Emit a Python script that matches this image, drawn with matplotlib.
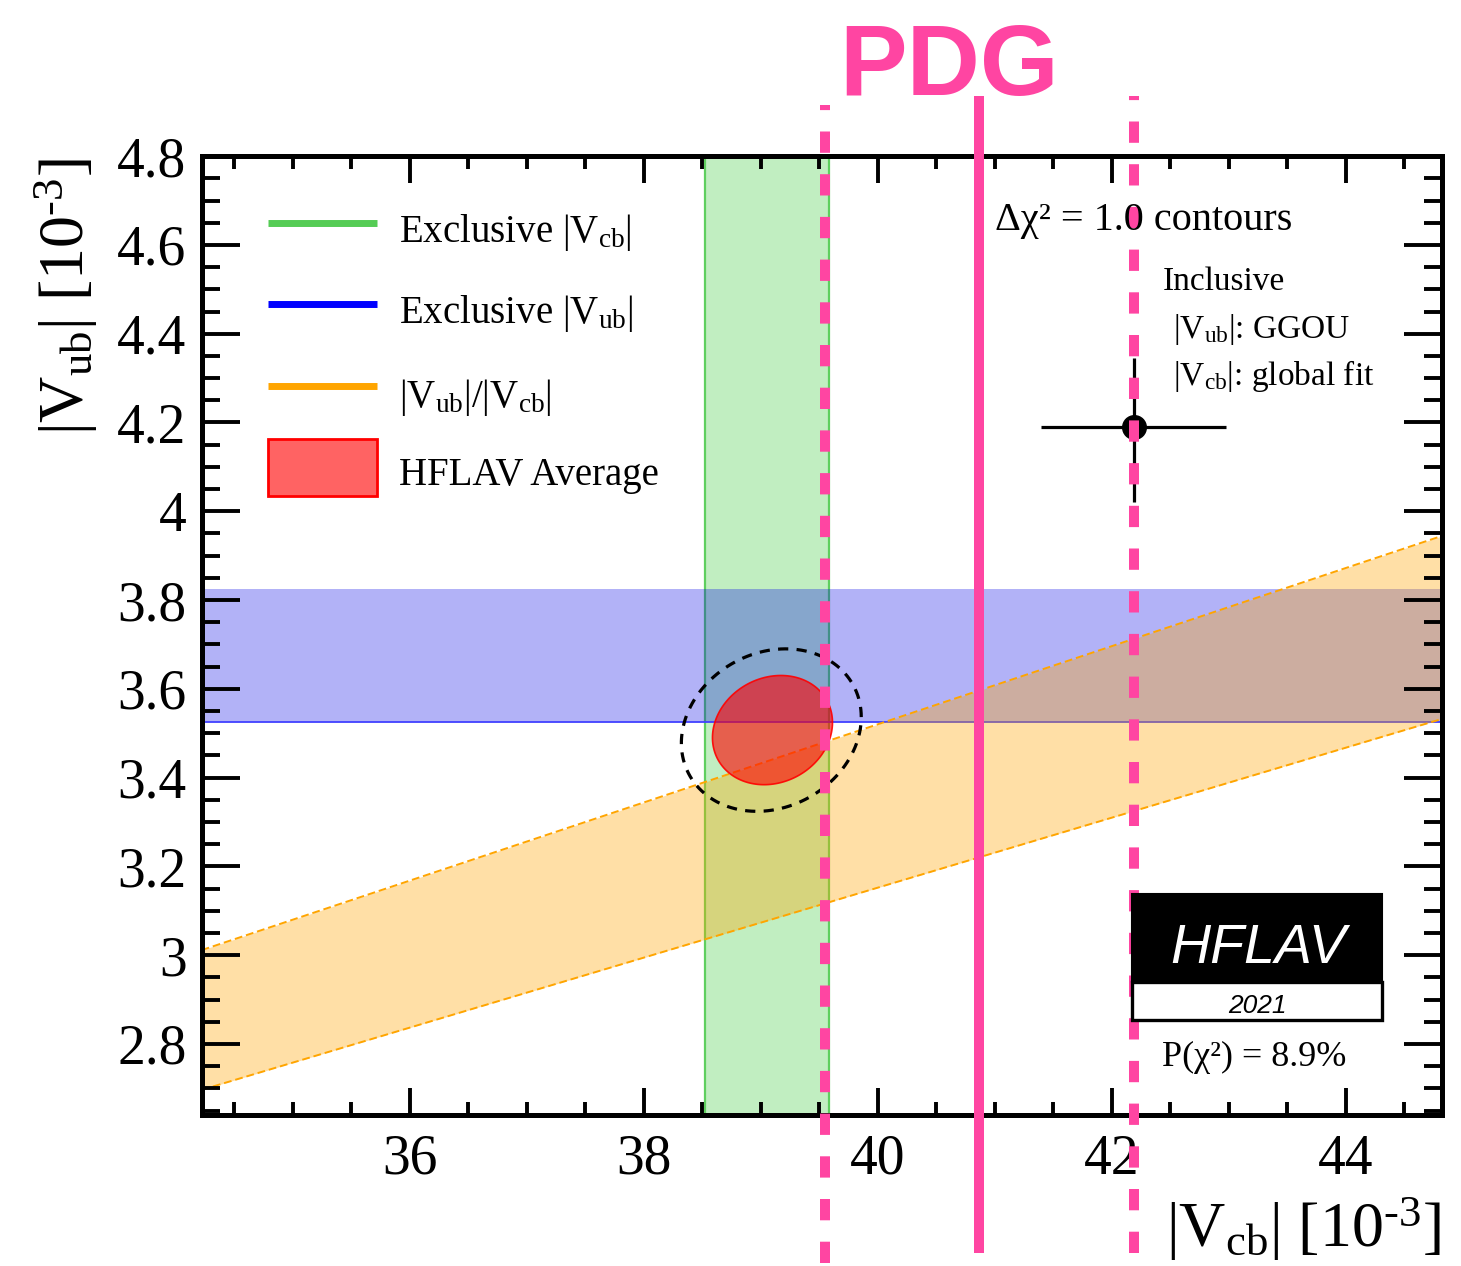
import matplotlib
matplotlib.use('Agg')
import numpy as np
import matplotlib.pyplot as plt
from matplotlib.transforms import blended_transform_factory
from matplotlib.ticker import MultipleLocator, FuncFormatter
from matplotlib.patches import Rectangle

# ---------------- data (units of 1e-3) ----------------
excl_vcb_band = [38.52, 39.58]          # exclusive |Vcb| band
excl_vub_band = [3.525, 3.825]          # exclusive |Vub| band
ratio_band = [0.0788, 0.0880]           # |Vub|/|Vcb| band
avg_center = [39.10, 3.507]             # HFLAV average (filled ellipse)
avg_sigma = [0.513, 0.123]
avg_rho = 0.14
contour_center = [39.09, 3.507]         # dashed contour
contour_sigma = [0.769, 0.183]
contour_rho = 0.16
incl_vcb = 42.19
incl_vcb_err = 0.79
incl_vub = 4.19
incl_vub_err_lo = 0.17
incl_vub_err_hi = 0.155
pdg_vcb = 40.87
pdg_vcb_err = 1.32
xlim = [34.22, 44.82]
ylim = [2.641, 4.801]

# ---------------- style ----------------
plt.rcParams['font.family'] = ['Liberation Serif', 'DejaVu Serif']
plt.rcParams['mathtext.fontset'] = 'custom'
plt.rcParams['mathtext.rm'] = 'Liberation Serif'
plt.rcParams['mathtext.it'] = 'Liberation Serif:italic'
plt.rcParams['mathtext.bf'] = 'Liberation Serif:bold'

W, H = 1461, 1266
fig = plt.figure(figsize=(W / 100, H / 100), dpi=100)
ax = fig.add_axes([201.7 / W, 1 - 1114.5 / H, (1441.5 - 201.7) / W, (1114.5 - 155.7) / H])


def fx(px):
    return px / W


def fy(py):
    return 1 - py / H


PINK = '#ff45a2'
HY = '\u2010'  # hyphen for the exponent

# bands
ax.axvspan(excl_vcb_band[0], excl_vcb_band[1], color=(50 / 255, 200 / 255, 50 / 255),
           alpha=0.3, lw=0, zorder=1)
for v in excl_vcb_band:
    ax.axvline(v, color='#5fcf5f', lw=1.6, zorder=1.5)
ax.axhspan(excl_vub_band[0], excl_vub_band[1], color=(0, 0, 230 / 255), alpha=0.3, lw=0, zorder=2)
ax.axhline(excl_vub_band[0], color='#4040ff', lw=1.3, zorder=2.5)

xs = np.array(xlim)
ax.fill_between(xs, ratio_band[0] * xs, ratio_band[1] * xs, color=(1, 165 / 255, 0),
                alpha=0.35, lw=0, zorder=3)
for r in ratio_band:
    ax.plot(xs, r * xs, color='#ffa500', lw=1.4, ls=(0, (4, 2)), zorder=3.5)

# ellipses
t = np.linspace(0, 2 * np.pi, 400)


def ell(c, s, rho):
    x = c[0] + s[0] * np.cos(t)
    y = c[1] + s[1] * (rho * np.cos(t) + np.sqrt(1 - rho ** 2) * np.sin(t))
    return x, y


ex, ey = ell(avg_center, avg_sigma, avg_rho)
ax.fill(ex, ey, facecolor=(1, 0, 0, 0.6), edgecolor=(1, 0, 0, 0.9), lw=1.2, zorder=4)
cx, cy = ell(contour_center, contour_sigma, contour_rho)
ax.plot(cx, cy, color='k', lw=2.3, ls=(0, (3.2, 2.6)), zorder=5)

# inclusive point
ax.errorbar([incl_vcb], [incl_vub], xerr=[[incl_vcb_err], [incl_vcb_err]],
            yerr=[[incl_vub_err_lo], [incl_vub_err_hi]], fmt='o', color='k', ms=17,
            elinewidth=2.3, capsize=0, zorder=6)

# PDG lines (extend beyond the axes)
trans = blended_transform_factory(ax.transData, fig.transFigure)
ax.plot([pdg_vcb, pdg_vcb], [fy(1253), fy(96)], transform=trans, color=PINK, lw=7.2,
        solid_capstyle='butt', clip_on=False, zorder=20)
ax.plot([pdg_vcb - pdg_vcb_err] * 2, [fy(1263), fy(105)], transform=trans, color=PINK, lw=7.2,
        ls=(0, (2.13, 2.14)), dash_capstyle='butt', clip_on=False, zorder=20)
ax.plot([pdg_vcb + pdg_vcb_err] * 2, [fy(1253), fy(96)], transform=trans, color=PINK, lw=7.2,
        ls=(0, (2.13, 2.14)), dash_capstyle='butt', clip_on=False, zorder=20)
fig.text(fx(949), fy(95), 'PDG', family='Liberation Sans', weight='bold', fontsize=73,
         color=PINK, ha='center', va='baseline')

# axes formatting
ax.set_xlim(xlim)
ax.set_ylim(ylim)
ax.xaxis.set_major_locator(MultipleLocator(2))
ax.xaxis.set_minor_locator(MultipleLocator(0.5))
ax.yaxis.set_major_locator(MultipleLocator(0.2))
ax.yaxis.set_minor_locator(MultipleLocator(0.05))
fmt = FuncFormatter(lambda v, p: f'{v:g}')
ax.xaxis.set_major_formatter(fmt)
ax.yaxis.set_major_formatter(fmt)
ax.tick_params(which='both', direction='in', top=True, right=True, width=2.8, colors='k')
ax.tick_params(axis='x', which='major', length=19.4, pad=14, labelsize=40)
ax.tick_params(axis='x', which='minor', length=9.4)
ax.tick_params(axis='y', which='major', length=27.4, pad=11, labelsize=40)
ax.tick_params(axis='y', which='minor', length=13)
ax.xaxis.set_zorder(12)
ax.yaxis.set_zorder(12)
for s in ax.spines.values():
    s.set_linewidth(3.6)
    s.set_zorder(12)

# axis labels
fig.text(fx(1441), fy(1247), r'|V$_{\rm cb}$| [10$^{' + HY + r'3}$]', fontsize=46,
         ha='right', va='baseline')
fig.text(fx(84), fy(158), r'|V$_{\rm ub}$| [10$^{' + HY + r'3}$]', fontsize=46, rotation=90,
         rotation_mode='anchor', ha='right', va='baseline')

# legend
leg_items = [('#55cc55', 222.7, r'Exclusive |V$_{\rm cb}$|', 241.7),
             ('#0000ff', 304.0, r'Exclusive |V$_{\rm ub}$|', 323.0),
             ('#ffa500', 386.0, r'|V$_{\rm ub}$|/|V$_{\rm cb}$|', 406.7)]
for col, ly, lab, by in leg_items:
    ax.plot([fx(268), fx(377)], [fy(ly), fy(ly)], transform=fig.transFigure, color=col,
            lw=5, solid_capstyle='butt', clip_on=False, zorder=7)
    fig.text(fx(399), fy(by), lab, fontsize=28, va='baseline')
fig.add_artist(Rectangle((fx(268), fy(496)), (377 - 268) / W, (496 - 439) / H,
                         transform=fig.transFigure, facecolor=(1, 0.39, 0.39),
                         edgecolor='red', lw=2))
fig.text(fx(399), fy(485), 'HFLAV Average', fontsize=28, va='baseline')

# annotations
fig.text(fx(995), fy(230), 'Δχ² = 1.0 contours', fontsize=29, va='baseline')
fig.text(fx(1163), fy(290), 'Inclusive', fontsize=24, va='baseline')
fig.text(fx(1173), fy(338), r'|V$_{\rm ub}$|: GGOU', fontsize=24, va='baseline')
fig.text(fx(1173), fy(385), r'|V$_{\rm cb}$|: global fit', fontsize=24, va='baseline')
fig.text(fx(1161.7), fy(1066), 'P(χ²) = 8.9%', fontsize=26, va='baseline')

# HFLAV logo
fig.add_artist(Rectangle((fx(1131.7), fy(981.7)), 250 / W, (981.7 - 894) / H,
                         transform=fig.transFigure, facecolor='black', edgecolor='black',
                         lw=1.5))
fig.add_artist(Rectangle((fx(1131.7), fy(1020)), 250 / W, (1020 - 981.7) / H,
                         transform=fig.transFigure, facecolor='white', edgecolor='black',
                         lw=2.4))
fig.text(fx(1258), fy(963.3), 'HFLAV', family='Liberation Sans', style='italic',
         color='white', fontsize=40, ha='center', va='baseline')
fig.text(fx(1257), fy(1013.3), '2021', family='Liberation Sans', style='italic',
         color='black', fontsize=19, ha='center', va='baseline')

fig.savefig('out.png', dpi=100)
